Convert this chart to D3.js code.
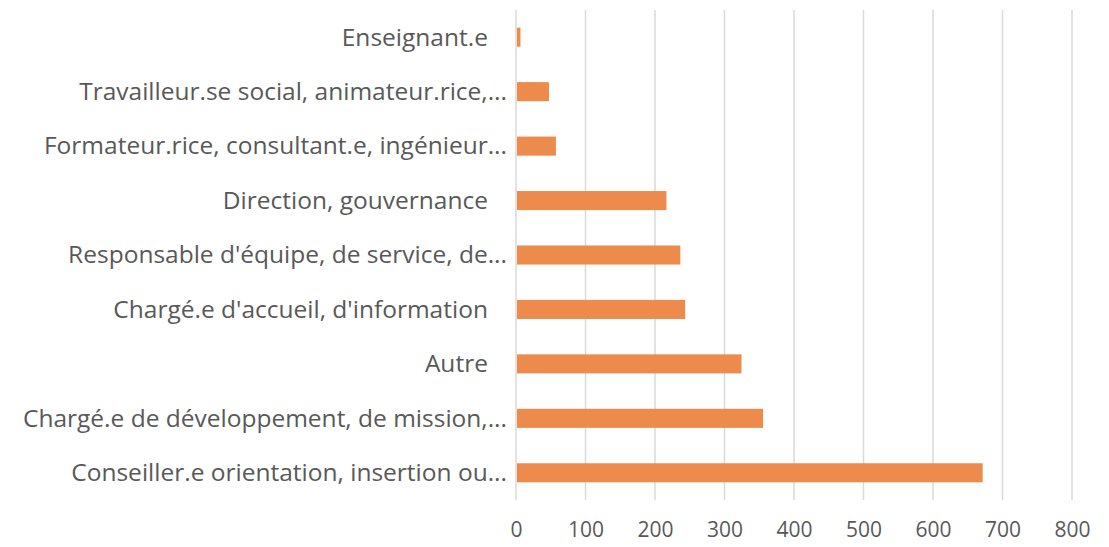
<!DOCTYPE html>
<html><head><meta charset="utf-8">
<script src="https://cdn.jsdelivr.net/npm/d3@7"></script>
<style>
html,body{margin:0;padding:0;background:#fff;}
svg text{font-family:"Open Sans","Noto Sans",sans-serif;fill:#595959;white-space:pre;}
</style></head>
<body><svg id="c" width="1109" height="547"></svg>
<script>
const categories = [
  "Enseignant.e   ",
  "Travailleur.se social, animateur.rice,...",
  "Formateur.rice, consultant.e, ingénieur...",
  "Direction, gouvernance   ",
  "Responsable d'équipe, de service, de...",
  "Chargé.e d'accueil, d'information   ",
  "Autre   ",
  "Chargé.e de développement, de mission,...",
  "Conseiller.e orientation, insertion ou..."
];
const values = [5, 46, 56, 215, 235, 242, 323, 354, 670];
const xTicks = [0, 100, 200, 300, 400, 500, 600, 700, 800];

const svg = d3.select("#c");
const mLeft = 516, mRight = 1072, mTop = 10, mBottom = 500;

const x = d3.scaleLinear().domain([0, 800]).range([mLeft, mRight]);
const y = d3.scaleBand().domain(categories).range([mTop, mBottom]).paddingInner(0.65).paddingOuter(0.325);

// gridlines
svg.append("g").selectAll("line").data(xTicks).join("line")
  .attr("x1", d => x(d)).attr("x2", d => x(d))
  .attr("y1", mTop).attr("y2", mBottom)
  .attr("stroke", "#d9d9d9").attr("stroke-width", 1.5);

// bars
svg.append("g").selectAll("rect").data(values).join("rect")
  .attr("x", x(0) + 1)
  .attr("y", (d, i) => y(categories[i]))
  .attr("width", d => x(d) - x(0))
  .attr("height", y.bandwidth())
  .attr("fill", "#ED8B4D");

// x axis labels
const xAxis = d3.axisBottom(x).tickValues(xTicks).tickSize(0).tickPadding(0);
const gx = svg.append("g").attr("transform", `translate(0,${mBottom + 22})`).call(xAxis);
gx.select(".domain").remove();
gx.selectAll("text").attr("font-size", 21).style("font-family", '"Open Sans","Noto Sans",sans-serif').attr("fill", "#595959");

// y axis labels
const yAxis = d3.axisLeft(y).tickSize(0).tickPadding(0);
const gy = svg.append("g").attr("transform", `translate(${mLeft - 9},0.5)`).call(yAxis);
gy.select(".domain").remove();
gy.selectAll("text").attr("font-size", 24.5).style("font-family", '"Open Sans","Noto Sans",sans-serif').attr("fill", "#595959");
</script></body></html>
